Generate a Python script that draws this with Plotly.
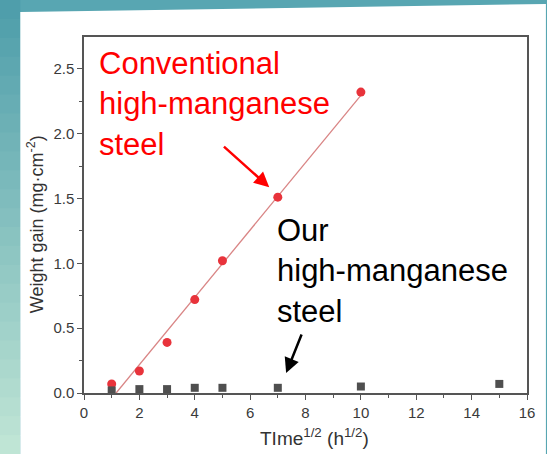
import numpy as np
import plotly.graph_objects as go

# ---- data ----
conv_x = [1, 2, 3, 4, 5, 7, 10]
conv_y = [0.07, 0.17, 0.39, 0.72, 1.02, 1.51, 2.32]
our_x = [1, 2, 3, 4, 5, 7, 10, 15]
our_y = [0.02, 0.03, 0.03, 0.04, 0.04, 0.04, 0.05, 0.07]
x_ticks = [0, 2, 4, 6, 8, 10, 12, 14, 16]
y_ticks = [0.0, 0.5, 1.0, 1.5, 2.0, 2.5]

W, H = 547, 454
L, R, T, B = 84, 529, 37, 393
FONT = "Liberation Sans, Arial"


def px(x):
    return (x - L) / (R - L)


def py(y):
    return (B - y) / (B - T)


# linear fit of conventional steel data
a, b = np.polyfit(conv_x, conv_y, 1)
fit_x = [-b / a, max(conv_x)]
fit_y = [a * v + b for v in fit_x]

fig = go.Figure()
fig.add_trace(go.Scatter(x=fit_x, y=fit_y, mode="lines",
                         line=dict(color="#d98585", width=1.3),
                         hoverinfo="skip", showlegend=False))
fig.add_trace(go.Scatter(x=conv_x, y=conv_y, mode="markers",
                         marker=dict(symbol="circle", size=9, color="#e8333b"),
                         showlegend=False))
fig.add_trace(go.Scatter(x=our_x, y=our_y, mode="markers",
                         marker=dict(symbol="square", size=8, color="#4f4f4f"),
                         showlegend=False))

shapes = []
# gradient strip on the left
top_c = np.array([0x4f, 0x9e, 0xab])
bot_c = np.array([0xbf, 0xe5, 0xd5])
n = 24
for i in range(n):
    t = i / (n - 1)
    c = (top_c * (1 - t) + bot_c * t).astype(int)
    y0 = i * H / n
    y1 = (i + 1) * H / n + 1
    shapes.append(dict(type="rect", xref="paper", yref="paper",
                       x0=px(-2), x1=px(20), y0=py(y1), y1=py(y0),
                       fillcolor="rgb(%d,%d,%d)" % tuple(c), line_width=0,
                       layer="below"))
# white panel
path = "M %f,%f L %f,%f L %f,%f L %f,%f Z" % (
    px(20), py(12), px(548), py(4), px(548), py(455), px(20), py(455))
shapes.append(dict(type="path", xref="paper", yref="paper", path=path,
                   fillcolor="white", line_width=0, layer="below"))

annotations = [
    dict(x=px(97), y=py(104), xref="paper", yref="paper",
         text="Conventional<br>high-manganese<br>steel", showarrow=False,
         xanchor="left", yanchor="middle", align="left",
         font=dict(size=31, color="#ff0000", family=FONT)),
    dict(x=px(276), y=py(271), xref="paper", yref="paper",
         text="Our<br>high-manganese<br>steel", showarrow=False,
         xanchor="left", yanchor="middle", align="left",
         font=dict(size=31, color="#000000", family=FONT)),
    # axis titles
    dict(x=px(316), y=py(437), xref="paper", yref="paper",
         text="TIme<sup>1/2</sup> (h<sup>1/2</sup>)", showarrow=False,
         xanchor="center", yanchor="middle",
         font=dict(size=19, color="#333333", family=FONT)),
    dict(x=px(35), y=py(224), xref="paper", yref="paper",
         text="Weight gain (mg·cm<sup>-2</sup>)", showarrow=False,
         textangle=-90, xanchor="center", yanchor="middle",
         font=dict(size=18, color="#333333", family=FONT)),
    # red arrow
    dict(x=6.69, y=1.587, ax=5.0, ay=1.91, xref="x", yref="y",
         axref="x", ayref="y", text="", showarrow=True, arrowhead=2,
         arrowsize=1.2, arrowwidth=2.5, arrowcolor="#ff0000"),
    # black arrow
    dict(x=7.30, y=0.154, ax=7.88, ay=0.462, xref="x", yref="y",
         axref="x", ayref="y", text="", showarrow=True, arrowhead=2,
         arrowsize=1.2, arrowwidth=2.5, arrowcolor="#000000"),
]

axis_common = dict(showline=True, linecolor="#555555", linewidth=1.5,
                   mirror=True, ticks="outside", ticklen=5, tickwidth=1.3,
                   tickcolor="#555555", showgrid=False, zeroline=False,
                   tickfont=dict(size=15, color="#3a3a3a", family=FONT))

fig.update_xaxes(range=[0, 16], tickvals=x_ticks,
                 ticktext=[str(v) for v in x_ticks],
                 minor=dict(ticks="outside", ticklen=3, tickwidth=1.3,
                            tickcolor="#555555", dtick=1, tick0=0),
                 **axis_common)
fig.update_yaxes(range=[0, 2.745], tickvals=y_ticks,
                 ticktext=["%.1f" % v for v in y_ticks],
                 minor=dict(ticks="outside", ticklen=3, tickwidth=1.3,
                            tickcolor="#555555", dtick=0.25, tick0=0),
                 **axis_common)

fig.update_layout(width=W, height=H,
                  margin=dict(l=L, r=W - R, t=T, b=H - B, pad=0),
                  paper_bgcolor="#58a6b2", plot_bgcolor="white",
                  shapes=shapes, annotations=annotations,
                  showlegend=False)

fig.write_html("out.html", config={"displayModeBar": False},
               post_script="document.body.style.margin='0';"
                           "document.body.style.overflow='hidden';")
